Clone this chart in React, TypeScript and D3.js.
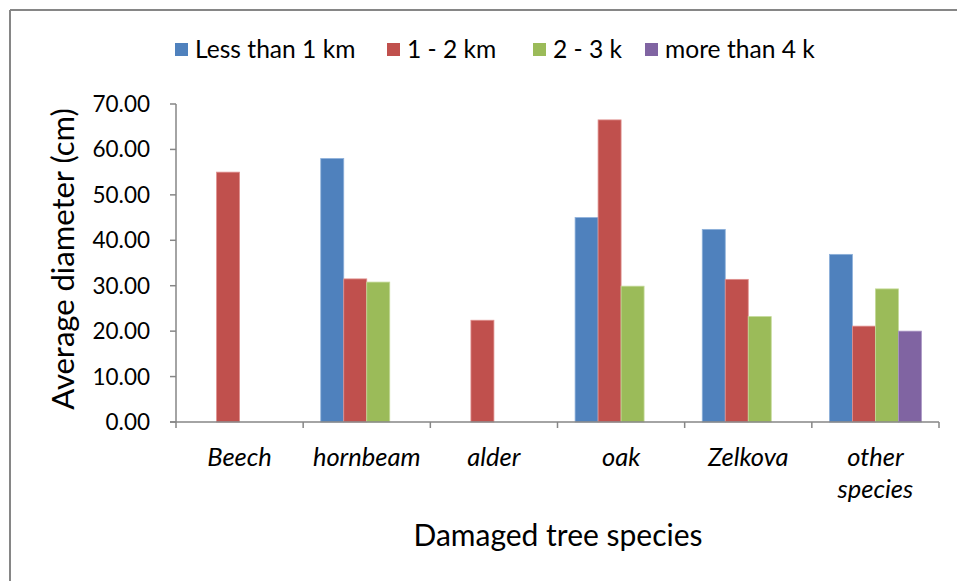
import React from "react";
import * as d3 from "d3";

const categories = ["Beech", "hornbeam", "alder", "oak", "Zelkova", "other species"];
const seriesNames = ["Less than 1 km", "1 - 2 km", "2 - 3 k", "more than 4 k"];
const lessThan1 = [null, 58.0, null, 45.0, 42.4, 36.9];
const km1to2 = [55.0, 31.5, 22.4, 66.5, 31.4, 21.1];
const km2to3 = [null, 30.8, null, 29.9, 23.2, 29.3];
const moreThan4 = [null, null, null, null, null, 20.0];
const yTicks = [0, 10, 20, 30, 40, 50, 60, 70];
const colors = ["#4F81BD", "#C0504D", "#9BBB59", "#8064A2"];
const strokes = ["#8DB0DA", "#E0908E", "#C4DA98", "#A996C4"];

const W = 957;
const H = 581;
const plotLeft = 176;
const plotRight = 939;
const plotTop = 104;
const plotBottom = 422;
const FONT = "Lato, 'Open Sans', sans-serif";
const AXIS = "#868686";
const legendX = [175, 387, 533, 645];

export default function App() {
  const seriesValues = [lessThan1, km1to2, km2to3, moreThan4];
  const x0 = d3.scaleBand<string>().domain(categories).range([plotLeft, plotRight]).padding(0);
  const x1 = d3
    .scaleBand<string>()
    .domain(seriesNames)
    .range([0, x0.bandwidth()])
    .paddingInner(0)
    .paddingOuter(0.765);
  const y = d3.scaleLinear().domain([0, 70]).range([plotBottom, plotTop]);

  const boundaries = categories.map((c) => x0(c) as number).concat([plotRight]);

  return (
    <svg
      width={W}
      height={H}
      style={{ position: "absolute", left: 0, top: 0, background: "#fff" }}
      fontFamily={FONT}
    >
      <rect x={0} y={0} width={W} height={H} fill="#fff" />
      {/* chart frame (left/top visible) */}
      <line x1={10} y1={10} x2={W + 5} y2={10} stroke={AXIS} strokeWidth={2} />
      <line x1={10} y1={10} x2={10} y2={H + 5} stroke={AXIS} strokeWidth={2} />

      {/* legend */}
      {seriesNames.map((s, i) => (
        <g key={s}>
          <rect x={legendX[i]} y={43} width={13} height={13} fill={colors[i]} />
          <text x={legendX[i] + 20} y={58} fontSize={24.6} fill="#000">
            {s}
          </text>
        </g>
      ))}

      {/* bars */}
      {seriesValues.map((vals, si) =>
        vals.map((v, ci) =>
          v == null ? null : (
            <rect
              key={`${si}-${ci}`}
              x={(x0(categories[ci]) as number) + (x1(seriesNames[si]) as number)}
              y={y(v)}
              width={x1.bandwidth()}
              height={y(0) - y(v)}
              fill={colors[si]}
              stroke={strokes[si]}
              strokeWidth={0.8}
            />
          )
        )
      )}

      {/* y axis */}
      <line x1={plotLeft} y1={plotTop} x2={plotLeft} y2={plotBottom} stroke={AXIS} strokeWidth={1.5} />
      {yTicks.map((t) => (
        <g key={t}>
          <line x1={plotLeft - 6} y1={y(t)} x2={plotLeft} y2={y(t)} stroke={AXIS} strokeWidth={1.5} />
          <text x={150} y={y(t) + 8} fontSize={22.5} textAnchor="end" fill="#000">
            {t.toFixed(2)}
          </text>
        </g>
      ))}

      {/* x axis */}
      <line x1={plotLeft - 6} y1={plotBottom} x2={plotRight} y2={plotBottom} stroke={AXIS} strokeWidth={1.5} />
      {boundaries.map((bx, i) => (
        <line key={i} x1={bx} y1={plotBottom} x2={bx} y2={plotBottom + 6} stroke={AXIS} strokeWidth={1.5} />
      ))}
      {categories.map((c) => {
        const cx = (x0(c) as number) + x0.bandwidth() / 2;
        const words = c === "other species" ? ["other", "species"] : [c];
        return (
          <text key={c} x={cx} y={466} fontSize={25.5} fontStyle="italic" textAnchor="middle" fill="#000">
            {words.map((w, i) => (
              <tspan key={i} x={cx} dy={i === 0 ? 0 : 32}>
                {w}
              </tspan>
            ))}
          </text>
        );
      })}

      {/* axis titles */}
      <text x={558} y={546} fontSize={30} textAnchor="middle" fill="#000">
        Damaged tree species
      </text>
      <text
        transform={`translate(74, 259) rotate(-90)`}
        fontSize={31}
        textAnchor="middle"
        fill="#000"
      >
        Average diameter (cm)
      </text>
    </svg>
  );
}
